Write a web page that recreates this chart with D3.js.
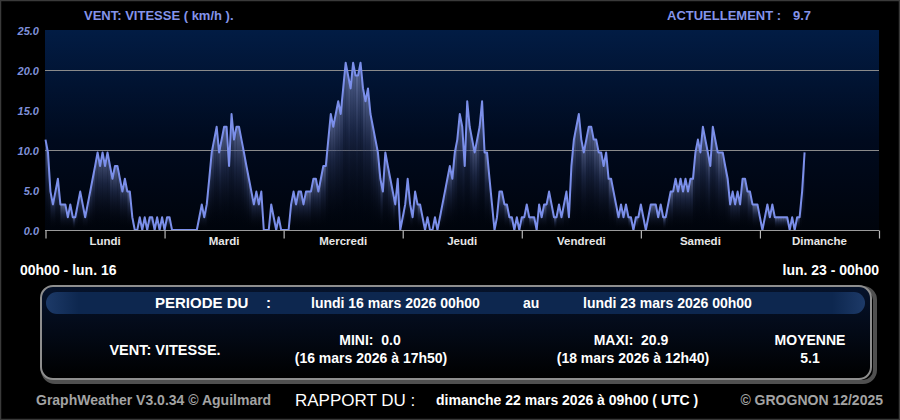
<!DOCTYPE html>
<html>
<head>
<meta charset="utf-8">
<script src="https://cdn.jsdelivr.net/npm/d3@7"></script>
<style>
  html, body { margin: 0; padding: 0; background: #000; }
  svg { display: block; font-family: "Liberation Sans", Arial, sans-serif; }
  text { white-space: pre; }
</style>
</head>
<body>
<div id="chart"></div>
<script>
// ---------- DATA (km/h, one value every 30 minutes) ----------
const dayNames = ["Lundi", "Mardi", "Mercredi", "Jeudi", "Vendredi", "Samedi", "Dimanche"];
const yTickValues = [0, 5, 10, 15, 20, 25];
const gridValues = [10, 20];
const stepHours = 0.5;

const lundi = [11.3, 9.7, 4.8, 3.2, 4.8, 6.4, 3.2, 3.2, 3.2, 1.6, 3.2, 1.6, 1.6, 3.2, 4.8, 3.2,
  1.6, 3.2, 4.8, 6.4, 8.0, 9.7, 8.0, 9.7, 8.0, 9.7, 8.0, 6.4, 8.0, 8.0, 6.4, 4.8,
  6.4, 4.8, 4.8, 1.6, 0, 0, 1.6, 0, 1.6, 0, 1.6, 1.6, 0, 1.6, 0, 1.6];
const mardi = [0, 1.6, 1.6, 0, 0, 0, 0, 0, 0, 0, 0, 0, 0, 0, 1.6, 3.2,
  1.6, 3.2, 6.4, 9.7, 11.3, 12.9, 9.7, 11.3, 12.9, 12.9, 8.0, 14.5, 11.3, 12.9, 12.9, 11.3,
  9.7, 8.0, 6.4, 4.8, 3.2, 4.8, 3.2, 4.8, 0, 0, 0, 3.2, 1.6, 0, 1.6, 0];
const mercredi = [0, 0, 0, 3.2, 4.8, 3.2, 4.8, 4.8, 3.2, 4.8, 4.8, 4.8, 6.4, 6.4, 4.8, 6.4,
  8.0, 8.0, 11.3, 14.5, 12.9, 14.5, 16.1, 14.5, 17.7, 20.9, 19.3, 17.7, 20.9, 19.3, 19.3, 20.9,
  17.7, 16.1, 17.7, 14.5, 12.9, 11.3, 9.7, 6.4, 4.8, 9.7, 8.0, 6.4, 4.8, 3.2, 6.4, 0];
const jeudi = [1.6, 3.2, 6.4, 3.2, 1.6, 4.8, 3.2, 3.2, 1.6, 0, 1.6, 0, 0, 1.6, 0, 1.6,
  3.2, 4.8, 6.4, 8.0, 6.4, 9.7, 11.3, 14.5, 12.9, 8.0, 16.1, 12.9, 11.3, 9.7, 11.3, 12.9,
  16.1, 9.7, 9.7, 6.4, 3.2, 0, 1.6, 4.8, 4.8, 3.2, 3.2, 1.6, 1.6, 0, 1.6, 0];
const vendredi = [1.6, 1.6, 3.2, 1.6, 1.6, 1.6, 0, 3.2, 1.6, 3.2, 3.2, 4.8, 3.2, 1.6, 1.6, 3.2,
  1.6, 3.2, 4.8, 1.6, 8.0, 11.3, 12.9, 14.5, 11.3, 9.7, 11.3, 12.9, 12.9, 11.3, 11.3, 9.7,
  9.7, 8.0, 9.7, 6.4, 6.4, 4.8, 3.2, 1.6, 3.2, 1.6, 3.2, 1.6, 1.6, 0, 1.6, 1.6];
const samedi = [3.2, 1.6, 0, 1.6, 3.2, 3.2, 3.2, 1.6, 3.2, 1.6, 1.6, 3.2, 4.8, 4.8, 6.4, 4.8,
  6.4, 4.8, 6.4, 4.8, 6.4, 6.4, 9.7, 11.3, 9.7, 12.9, 11.3, 9.7, 8.0, 12.9, 11.3, 9.7,
  9.7, 9.7, 8.0, 6.4, 3.2, 4.8, 3.2, 4.8, 3.2, 6.4, 6.4, 4.8, 4.8, 3.2, 3.2, 3.2];
const dimanche = [1.6, 0, 1.6, 3.2, 1.6, 3.2, 1.6, 1.6, 1.6, 1.6, 1.6, 1.6, 0, 1.6, 0, 1.6,
  1.6, 4.8, 9.7];

const titleText = "VENT: VITESSE ( km/h ).";
const currentLabel = "ACTUELLEMENT :";
const currentValue = "9.7";
const startLabel = "00h00 - lun. 16";
const endLabel = "lun. 23 - 00h00";
const periodFrom = "lundi 16 mars 2026 00h00";
const periodTo = "lundi 23 mars 2026 00h00";
const seriesName = "VENT: VITESSE.";
const miniText = "MINI:  0.0";
const miniDate = "(16 mars 2026 à 17h50)";
const maxiText = "MAXI:  20.9";
const maxiDate = "(18 mars 2026 à 12h40)";
const moyLabel = "MOYENNE";
const moyValue = "5.1";
const footerLeft = "GraphWeather V3.0.34 © Aguilmard";
const rapportLabel = "RAPPORT DU :";
const rapportDate = "dimanche 22 mars 2026 à 09h00 ( UTC )";
const footerRight = "© GROGNON 12/2025";

// ---------- BUILD ----------
const values = [].concat(lundi, mardi, mercredi, jeudi, vendredi, samedi, dimanche);
const data = values.map((v, i) => ({ t: i * stepHours, v }));

const W = 900, H = 420;
const svg = d3.select("#chart").append("svg").attr("width", W).attr("height", H);
const defs = svg.append("defs");

const bg = defs.append("linearGradient").attr("id", "plotBg")
  .attr("x1", 0).attr("y1", 0).attr("x2", 0).attr("y2", 1);
bg.append("stop").attr("offset", "0%").attr("stop-color", "#021c44");
bg.append("stop").attr("offset", "55%").attr("stop-color", "#000a1e");
bg.append("stop").attr("offset", "100%").attr("stop-color", "#00040c");

const bar = defs.append("linearGradient").attr("id", "barGrad")
  .attr("x1", 0).attr("y1", 0).attr("x2", 0).attr("y2", 1);
bar.append("stop").attr("offset", "0%").attr("stop-color", "#7f8cc0").attr("stop-opacity", 0.72);
bar.append("stop").attr("offset", "40%").attr("stop-color", "#2e3a60").attr("stop-opacity", 0.55);
bar.append("stop").attr("offset", "100%").attr("stop-color", "#000000").attr("stop-opacity", 0);

const boxBg = defs.append("linearGradient").attr("id", "boxBg")
  .attr("x1", 0).attr("y1", 0).attr("x2", 0).attr("y2", 1);
boxBg.append("stop").attr("offset", "0%").attr("stop-color", "#06132c");
boxBg.append("stop").attr("offset", "100%").attr("stop-color", "#000000");

const hdr = defs.append("linearGradient").attr("id", "hdrBg")
  .attr("x1", 0).attr("y1", 0).attr("x2", 1).attr("y2", 0);
hdr.append("stop").attr("offset", "0%").attr("stop-color", "#1d3a68");
hdr.append("stop").attr("offset", "4%").attr("stop-color", "#0d274f");
hdr.append("stop").attr("offset", "96%").attr("stop-color", "#0d274f");
hdr.append("stop").attr("offset", "100%").attr("stop-color", "#1d3a68");

// outer border
svg.append("rect").attr("x", 0.5).attr("y", 0.5).attr("width", W - 1).attr("height", H - 1)
  .attr("fill", "#000").attr("stroke", "#3a3a3a").attr("stroke-width", 1.5);

const plotL = 45, plotR = 879, plotT = 30, plotB = 230;
const x = d3.scaleLinear().domain([0, 168]).range([plotL + 0.5, plotR]);
const y = d3.scaleLinear().domain([0, 25]).range([plotB, plotT]);

svg.append("rect").attr("x", plotL).attr("y", plotT)
  .attr("width", plotR - plotL).attr("height", plotB - plotT).attr("fill", "url(#plotBg)");

// gridlines
svg.append("g").selectAll("line").data(gridValues).join("line")
  .attr("x1", plotL).attr("x2", plotR)
  .attr("y1", d => Math.round(y(d)) + 0.5).attr("y2", d => Math.round(y(d)) + 0.5)
  .attr("stroke", "#8a8a8a").attr("stroke-width", 1);

// filled columns under the line
const seg = d3.area().x(d => x(d.t)).y0(y(0)).y1(d => y(d.v));
const cols = svg.append("g");
for (let i = 0; i < data.length - 1; i++) {
  if (data[i].v === 0 && data[i + 1].v === 0) continue;
  cols.append("path").attr("d", seg([data[i], data[i + 1]])).attr("fill", "url(#barGrad)");
}

// line
svg.append("path").datum(data)
  .attr("d", d3.line().x(d => x(d.t)).y(d => y(d.v)))
  .attr("fill", "none").attr("stroke", "#7b8fea").attr("stroke-width", 2)
  .attr("stroke-linejoin", "round");

// x axis
const dayTicks = d3.range(0, 169, 24);
const xAxis = svg.append("g").attr("transform", `translate(0,${plotB + 0.5})`)
  .call(d3.axisBottom(x).tickValues(dayTicks).tickFormat("").tickSize(8).tickSizeOuter(0));
xAxis.select(".domain").attr("stroke", "#9a9a9a").attr("d", `M${plotL},0H${plotR}`);
xAxis.selectAll(".tick line").attr("stroke", "#b8b8b8").attr("stroke-width", 1.2);

svg.append("g").selectAll("text").data(dayNames).join("text")
  .attr("x", (d, i) => x(12 + 24 * i)).attr("y", 245)
  .attr("text-anchor", "middle").attr("fill", "#e6e6e6")
  .attr("font-size", "11.5px").attr("font-weight", "bold").text(d => d);

// y axis
const yAxis = svg.append("g").attr("transform", "translate(39,1)")
  .call(d3.axisLeft(y).tickValues(yTickValues).tickFormat(d3.format(".1f")).tickSize(0).tickPadding(0));
yAxis.select(".domain").remove();
yAxis.selectAll("text").attr("fill", "#7f90da").attr("font-size", "11px")
  .attr("font-weight", "bold").attr("font-style", "italic")
  .attr("font-family", "'Liberation Sans', Arial, sans-serif");

// header texts
svg.append("text").attr("x", 84).attr("y", 20).attr("fill", "#8494ea")
  .attr("font-size", "13px").attr("font-weight", "bold").text(titleText);
svg.append("text").attr("x", 667).attr("y", 20).attr("fill", "#8494ea")
  .attr("font-size", "13px").attr("font-weight", "bold").text(currentLabel);
svg.append("text").attr("x", 793).attr("y", 20).attr("fill", "#8494ea")
  .attr("font-size", "13px").attr("font-weight", "bold").text(currentValue);

svg.append("text").attr("x", 20).attr("y", 275).attr("fill", "#ffffff")
  .attr("font-size", "14px").attr("font-weight", "bold").text(startLabel);
svg.append("text").attr("x", 879).attr("y", 275).attr("fill", "#ffffff").attr("text-anchor", "end")
  .attr("font-size", "14px").attr("font-weight", "bold").text(endLabel);

// summary box
svg.append("rect").attr("x", 43).attr("y", 288).attr("width", 832).attr("height", 94).attr("rx", 12)
  .attr("fill", "none").attr("stroke", "#505050").attr("stroke-width", 4);
svg.append("rect").attr("x", 41).attr("y", 286).attr("width", 830).attr("height", 93).attr("rx", 12)
  .attr("fill", "url(#boxBg)").attr("stroke", "#8e8e8e").attr("stroke-width", 2);
svg.append("rect").attr("x", 46).attr("y", 292).attr("width", 819).attr("height", 22).attr("rx", 11)
  .attr("fill", "url(#hdrBg)");

const boxText = (txt, xx, yy, size, anchor, weight, color) =>
  svg.append("text").attr("x", xx).attr("y", yy).attr("font-size", size)
    .attr("text-anchor", anchor || "start").attr("font-weight", weight || "bold")
    .attr("fill", color || "#ffffff").text(txt);

boxText("PERIODE DU", 155, 308, "15px");
boxText(":", 266, 308, "15px");
boxText(periodFrom, 311, 308, "14px");
boxText("au", 523, 308, "14px");
boxText(periodTo, 583, 308, "14px");

boxText(seriesName, 165, 355, "14.5px", "middle");
boxText(miniText, 370, 345, "14px", "middle");
boxText(miniDate, 371, 363, "14px", "middle");
boxText(maxiText, 631, 345, "14px", "middle");
boxText(maxiDate, 633, 363, "14px", "middle");
boxText(moyLabel, 810, 345, "14px", "middle");
boxText(moyValue, 810, 363, "14px", "middle");

// footer
boxText(footerLeft, 36, 405, "14px", "start", "bold", "#a3a3a3");
boxText(rapportLabel, 295, 406, "17px", "start", "normal", "#ffffff");
boxText(rapportDate, 436, 405, "14px", "start", "bold", "#ffffff");
boxText(footerRight, 883, 405, "14px", "end", "bold", "#a3a3a3");
</script>
</body>
</html>
